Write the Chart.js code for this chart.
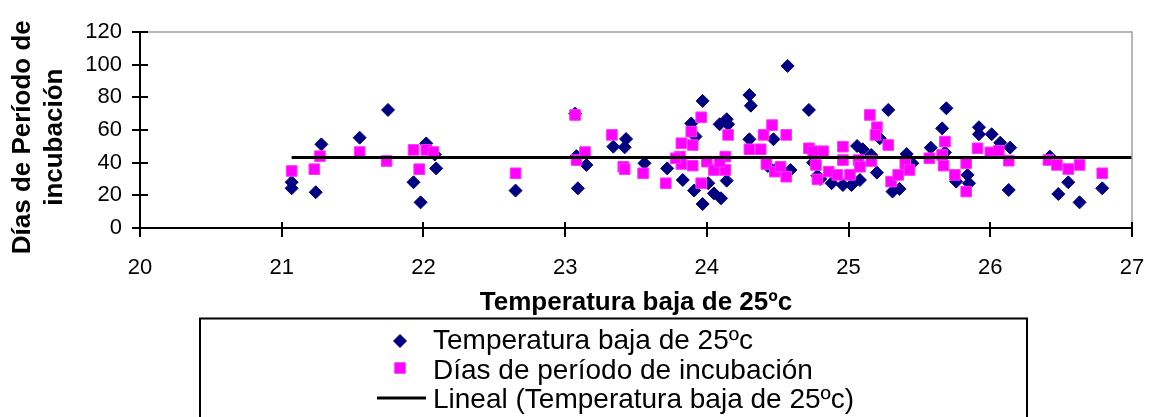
<!DOCTYPE html>
<html>
<head>
<meta charset="utf-8">
<script src="https://cdn.jsdelivr.net/npm/chart.js@4/dist/chart.umd.min.js"></script>
<style>
  html, body { margin: 0; padding: 0; background: #fff; }
  canvas { display: block; }
</style>
</head>
<body>
<canvas id="c" width="1151" height="417"></canvas>
<script>
// ---- Data ----
const seriesNames = [
  "Temperatura baja de 25\u00BAc",
  "D\u00EDas de per\u00EDodo de incubaci\u00F3n",
  "Lineal (Temperatura baja de 25\u00BAc)"
];
const xTitle = "Temperatura baja de 25\u00BAc";
const yTitleLines = ["D\u00EDas de Per\u00EDodo de  ", "incubaci\u00F3n  "];

const xTicks = [20, 21, 22, 23, 24, 25, 26, 27];
const yTicks = [0, 20, 40, 60, 80, 100, 120];

const tempX = [21.07, 21.07, 21.24, 21.28, 21.55, 21.75, 21.93, 21.98, 22.02, 22.08, 22.09, 22.65,
  23.07, 23.09, 23.08, 23.15, 23.34, 23.43, 23.42, 23.56, 23.72, 23.83, 23.89, 23.92, 23.91,
  23.97, 23.97, 24.01, 24.05, 24.10, 24.09, 24.14, 24.15, 24.14, 24.30, 24.31, 24.30, 24.47,
  24.57, 24.59, 24.43, 24.50, 24.72, 24.75, 24.78, 24.80, 24.88, 24.96, 25.02, 25.06, 25.10,
  25.08, 25.16, 25.20, 25.22, 25.28, 25.31, 25.36, 25.41, 25.45, 25.58, 25.69, 25.66, 25.68,
  25.76, 25.84, 25.85, 25.92, 25.92, 26.01, 26.07, 26.14, 26.13, 26.42, 26.48, 26.55, 26.63, 26.79];
const tempY = [28, 24.3, 21.9, 51.2, 55.3, 72.3, 28, 15.7, 51.8, 45, 36.5, 22.9,
  70, 24.3, 44, 38.6, 49.8, 54.5, 49.4, 39.6, 36.5, 29.4, 64, 56, 22.9,
  77.8, 14.7, 27.4, 21.2, 18.2, 63.5, 66.6, 63.5, 29, 81.4, 74.9, 54.3, 54.3,
  99.2, 35.5, 38, 37, 72.3, 40, 32, 30, 27.4, 26.3, 26.3, 50.2, 48.2,
  29.4, 44.7, 33.9, 54.9, 72.3, 22.3, 23.9, 45.3, 39.6, 49.2, 73.3, 61, 46.3,
  28.4, 32.5, 27.4, 61.7, 57.4, 57.4, 52.2, 49.2, 23.3, 43.7, 20.8, 28, 15.7, 24.3];

const incX = [21.07, 21.23, 21.27, 21.55, 21.74, 21.93, 21.97, 22.02, 22.07, 22.65,
  23.07, 23.08, 23.14, 23.33, 23.41, 23.42, 23.55, 23.71, 23.82, 23.81, 23.82, 23.78,
  23.89, 23.90, 23.90, 23.96, 23.96, 24.00, 24.05, 24.15, 24.13, 24.13, 24.09,
  24.30, 24.38, 24.40, 24.46, 24.56, 24.42, 24.48, 24.52, 24.56,
  24.72, 24.75, 24.82, 24.77, 24.78, 24.86, 24.92, 24.96, 24.96, 25.01, 25.07, 25.08,
  25.16, 25.15, 25.20, 25.19, 25.28, 25.30, 25.35, 25.40, 25.43, 25.57, 25.68, 25.66,
  25.67, 25.75, 25.83, 25.83, 25.91, 26.00, 26.06, 26.13, 26.41, 26.47, 26.55, 26.63, 26.79];
const incY = [34.9, 36, 44, 46.5, 41, 47.8, 36, 47.8, 46.5, 33.5,
  69.2, 41.6, 46.5, 57, 37.5, 36, 33.5, 27.4, 51.9, 43.7, 39.2, 42.7,
  59, 50.8, 38.2, 67.8, 27.4, 40.6, 35.5, 57, 43.7, 35.5, 40.6,
  48.2, 48.2, 57, 63, 57, 39.2, 34.5, 37.5, 31.4,
  48.8, 47, 47, 38.6, 29.8, 34.5, 32.5, 49.8, 41.6, 32.5, 41.6, 37.5,
  41, 69.2, 61.7, 57, 50.8, 28.4, 32.5, 39.2, 35.5, 42.7, 52.9, 44.7,
  38.2, 32.5, 39.6, 22.3, 48.8, 46.3, 47.3, 41.2, 41.6, 38.6, 36.1, 38.6, 33.5];

const trendX = [21.07, 27];
const trendY = [43.2, 43.2];

// ---- Build library structures ----
const toPts = (xs, ys) => xs.map((x, i) => ({ x: x, y: ys[i] }));
const FONT = '"Liberation Sans", Arial, Helvetica, sans-serif';

const innerTicks = {
  id: 'innerTicks',
  afterDatasetsDraw(chart) {
    const { ctx, chartArea: a, scales: { x, y } } = chart;
    ctx.save();
    ctx.strokeStyle = '#a0a0a0';
    ctx.lineWidth = 1.5;
    ctx.beginPath();
    ctx.moveTo(a.left, a.top);
    ctx.lineTo(a.right, a.top);
    ctx.lineTo(a.right, a.bottom);
    ctx.stroke();
    ctx.strokeStyle = '#000';
    ctx.lineWidth = 2;
    ctx.beginPath();
    y.ticks.forEach(t => {
      const py = Math.round(y.getPixelForValue(t.value));
      ctx.moveTo(a.left, py);
      ctx.lineTo(a.left + 8, py);
    });
    x.ticks.forEach(t => {
      const px = Math.round(x.getPixelForValue(t.value));
      ctx.moveTo(px, a.bottom);
      ctx.lineTo(px, a.bottom - 6);
    });
    ctx.stroke();
    ctx.restore();
  }
};

const legendBox = {
  id: 'legendBox',
  afterDraw(chart) {
    const ctx = chart.ctx;
    const ds = chart.data.datasets;
    ctx.save();
    ctx.strokeStyle = '#000';
    ctx.lineWidth = 2;
    ctx.strokeRect(200, 318.5, 827, 140);
    const rows = [
      { markerY: 341, baseY: 349 },
      { markerY: 368, baseY: 379 },
      { markerY: 398, baseY: 407.5 }
    ];
    ds.forEach((d, i) => {
      const r = rows[i];
      if (d.showLine) {
        ctx.strokeStyle = d.borderColor;
        ctx.lineWidth = d.borderWidth;
        ctx.beginPath();
        ctx.moveTo(377, r.markerY);
        ctx.lineTo(426, r.markerY);
        ctx.stroke();
      } else {
        ctx.fillStyle = d.backgroundColor;
        ctx.strokeStyle = d.borderColor;
        ctx.lineWidth = d.borderWidth;
        Chart.helpers.drawPoint(ctx, {
          pointStyle: d.pointStyle, radius: d.pointRadius,
          rotation: 0, borderWidth: d.borderWidth
        }, 400, r.markerY);
      }
      ctx.fillStyle = '#000';
      ctx.font = '28px ' + FONT;
      ctx.textAlign = 'left';
      ctx.textBaseline = 'alphabetic';
      ctx.fillText(d.label, 433, r.baseY);
    });
    ctx.restore();
  }
};

new Chart(document.getElementById('c'), {
  type: 'scatter',
  data: {
    datasets: [
      {
        label: seriesNames[0],
        data: toPts(tempX, tempY),
        pointStyle: 'rectRot',
        pointRadius: 6.5,
        backgroundColor: '#000080',
        borderColor: '#000080',
        borderWidth: 1,
        order: 2
      },
      {
        label: seriesNames[1],
        data: toPts(incX, incY),
        pointStyle: 'rect',
        pointRadius: 7.5,
        backgroundColor: '#FF00FF',
        borderColor: '#FF33FF',
        borderWidth: 1,
        order: 1
      },
      {
        label: seriesNames[2],
        data: toPts(trendX, trendY),
        showLine: true,
        pointRadius: 0,
        borderColor: '#000',
        backgroundColor: '#000',
        borderWidth: 3,
        order: 0
      }
    ]
  },
  options: {
    responsive: false,
    animation: false,
    devicePixelRatio: 1,
    layout: { padding: { top: 32, right: 19, left: 0, bottom: 0 } },
    plugins: {
      legend: { display: false },
      tooltip: { enabled: false }
    },
    scales: {
      x: {
        type: 'linear',
        min: xTicks[0],
        max: xTicks[xTicks.length - 1],
        afterBuildTicks: s => { s.ticks = xTicks.map(v => ({ value: v })); },
        afterFit: s => { s.height = 189; s.paddingLeft = 0; s.paddingRight = 0; },
        border: { color: '#000', width: 2 },
        grid: { drawOnChartArea: false, drawTicks: true, tickLength: 9, color: '#000', lineWidth: 2 },
        ticks: { color: '#000', font: { family: FONT, size: 22 }, padding: 18, maxRotation: 0 },
        title: {
          display: true, text: xTitle, color: '#000',
          font: { family: FONT, size: 26, weight: 'bold' },
          padding: { top: 0, bottom: 99 }
        }
      },
      y: {
        type: 'linear',
        min: yTicks[0],
        max: yTicks[yTicks.length - 1],
        afterBuildTicks: s => { s.ticks = yTicks.map(v => ({ value: v })); },
        afterFit: s => { s.width = 140; s.paddingTop = 0; s.paddingBottom = 0; },
        border: { color: '#000', width: 2 },
        grid: { drawOnChartArea: false, drawTicks: true, tickLength: 8, color: '#000', lineWidth: 2 },
        ticks: { color: '#000', font: { family: FONT, size: 22 }, padding: 10 },
        title: {
          display: true, text: yTitleLines, color: '#000',
          font: { family: FONT, size: 26, weight: 'bold', lineHeight: 1.23 },
          padding: { top: 7, bottom: 0 }
        }
      }
    }
  },
  plugins: [innerTicks, legendBox]
});
</script>
</body>
</html>
